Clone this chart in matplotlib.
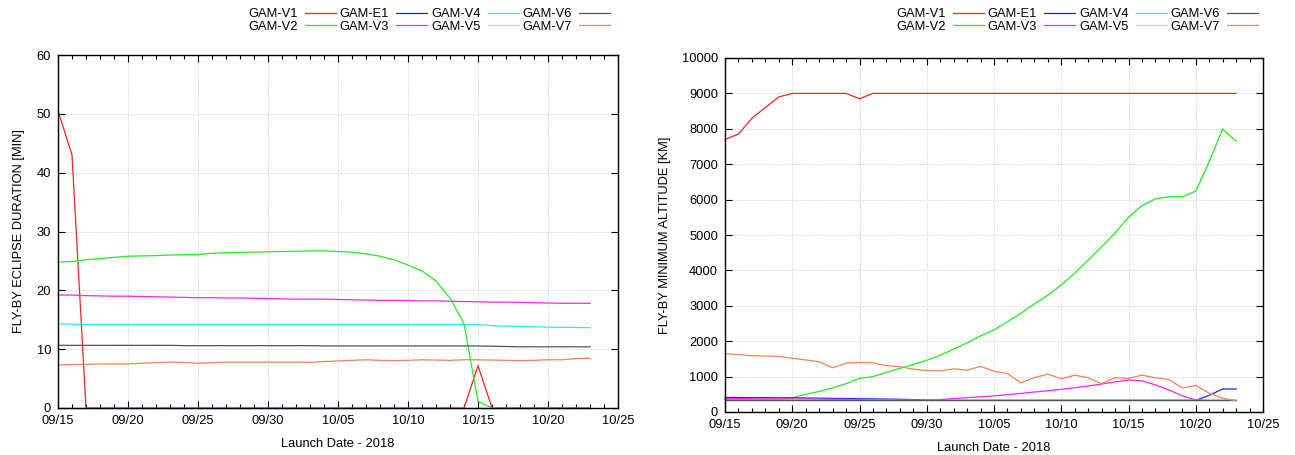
import datetime as dt
import numpy as np
import matplotlib
matplotlib.use("Agg")
import matplotlib.pyplot as plt
import matplotlib.dates as mdates
from matplotlib.ticker import MultipleLocator

plt.rcParams['font.family'] = ['Liberation Sans', 'DejaVu Sans']
plt.rcParams['font.size'] = 9

# launch dates 09/15 .. 10/23 (2018), one sample per day
start = dt.date(2018, 9, 15)
dates = [start + dt.timedelta(days=i) for i in range(39)]

names = ['GAM-V1', 'GAM-V2', 'GAM-E1', 'GAM-V3', 'GAM-V4', 'GAM-V5', 'GAM-V6', 'GAM-V7']
colors = ['#ff2020', '#20ee20', '#2020ff', '#ff20ff', '#20f0f0', '#d0d0d0', '#555555', '#ff8050']

# fly-by eclipse duration [min]
ecl_v1 = [50.5, 43.0] + [0.0] * 28 + [7.2] + [0.0] * 8
ecl_v2 = [24.8, 24.9, 25.2, 25.4, 25.6, 25.8, 25.85, 25.9, 26.0, 26.05,
          26.1, 26.3, 26.4, 26.45, 26.5, 26.55, 26.6, 26.65, 26.7, 26.7,
          26.6, 26.5, 26.2, 25.8, 25.2, 24.3, 23.3, 21.6, 18.7, 14.3,
          1.1, 0, 0, 0, 0, 0, 0, 0, 0]
ecl_e1 = [0.0] * 39
ecl_v3 = [19.2, 19.2, 19.1, 19.05, 19.0, 19.0, 18.95, 18.9, 18.85, 18.8,
          18.75, 18.75, 18.7, 18.7, 18.65, 18.6, 18.55, 18.5, 18.5, 18.5,
          18.45, 18.4, 18.35, 18.3, 18.3, 18.25, 18.2, 18.2, 18.15, 18.1,
          18.05, 18.0, 18.0, 17.95, 17.9, 17.85, 17.8, 17.8, 17.8]
ecl_v4 = [14.3, 14.25] + [14.2] * 29 + [14.0, 13.9, 13.85, 13.8, 13.75, 13.7, 13.7, 13.65]
ecl_v5 = [0.0] * 39
ecl_v6 = [10.65] * 9 + [10.6] * 10 + [10.55] * 12 + [10.5, 10.45, 10.4, 10.4, 10.4, 10.4, 10.4, 10.4]
ecl_v7 = [7.3, 7.4, 7.4, 7.5, 7.5, 7.5, 7.6, 7.7, 7.8, 7.75,
          7.6, 7.7, 7.8, 7.8, 7.8, 7.8, 7.8, 7.8, 7.75, 7.9,
          8.0, 8.1, 8.2, 8.1, 8.05, 8.1, 8.2, 8.15, 8.1, 8.2,
          8.2, 8.15, 8.1, 8.05, 8.1, 8.2, 8.2, 8.4, 8.45]

# fly-by minimum altitude [km]
alt_v1 = [7700, 7850, 8300, 8600, 8900, 9000, 9000, 9000, 9000, 9000,
          8850] + [9000] * 28
alt_v2 = [350, 350, 350, 350, 350, 400, 500, 580, 680, 800,
          950, 1000, 1120, 1230, 1340, 1460, 1600, 1780, 1950, 2150,
          2320, 2550, 2790, 3050, 3300, 3590, 3920, 4290, 4670, 5050,
          5500, 5830, 6020, 6080, 6080, 6240, 7070, 7990, 7650]
alt_e1 = [410, 410, 405, 405, 400, 400, 395, 390, 385, 380,
          375, 370, 365, 360, 350, 340, 335] + [330] * 19 + [470, 650, 650]
alt_v3 = [380, 378, 375, 372, 370, 368, 365, 362, 358, 355,
          352, 348, 345, 342, 338, 335, 350, 380, 405, 430,
          455, 490, 525, 565, 600, 640, 685, 735, 790, 850,
          905, 880, 765, 620, 460, 340, 330, 330, 330]
alt_v4 = [330] * 39
alt_v5 = [330] * 39
alt_v6 = [330] * 39
alt_v7 = [1650, 1620, 1590, 1580, 1570, 1520, 1470, 1420, 1250, 1380,
          1400, 1390, 1310, 1280, 1210, 1170, 1160, 1220, 1180, 1290,
          1150, 1090, 820, 970, 1070, 940, 1040, 970, 800, 970,
          950, 1040, 970, 920, 680, 750, 530, 390, 320]

eclipse = [ecl_v1, ecl_v2, ecl_e1, ecl_v3, ecl_v4, ecl_v5, ecl_v6, ecl_v7]
altitude = [alt_v1, alt_v2, alt_e1, alt_v3, alt_v4, alt_v5, alt_v6, alt_v7]

W, H = 1295, 455
fig = plt.figure(figsize=(W / 100, H / 100), dpi=100)


def px_axes(x0, y0, x1, y1):
    return fig.add_axes([x0 / W, 1 - y1 / H, (x1 - x0) / W, (y1 - y0) / H])


def style(ax, ymax, ystep, ylabel):
    x0 = mdates.date2num(start)
    ax.set_xlim(x0, x0 + 40)
    ax.set_ylim(0, ymax)
    ax.set_xticks(np.arange(x0, x0 + 41, 5))
    ax.xaxis.set_minor_locator(MultipleLocator(1))
    ax.xaxis.set_major_formatter(mdates.DateFormatter('%m/%d'))
    ax.yaxis.set_major_locator(MultipleLocator(ystep))
    ax.tick_params(which='both', direction='in', top=True, right=True,
                   color='black', width=0.8, labelsize=9.3, pad=5)
    ax.tick_params(which='major', length=5)
    ax.tick_params(which='minor', length=3)
    ax.grid(True, which='major', linestyle=(0, (1, 2)), color='#bbbbbb', linewidth=0.6)
    for sp in ax.spines.values():
        sp.set_linewidth(1.0)
    ax.set_xlabel('Launch Date - 2018', fontsize=9.3, labelpad=8)
    ax.set_ylabel(ylabel, fontsize=9.3, labelpad=8)


def draw(ax, series, legend_right):
    for name, col, vals in zip(names, colors, series):
        ax.plot(dates, vals, color=col, linewidth=0.9, label=name, clip_on=False)
    fig.legend(*ax.get_legend_handles_labels(), loc='upper right',
               bbox_to_anchor=(legend_right / W, 1 - 8 / H), ncol=4,
               frameon=False, markerfirst=False, fontsize=9.3,
               handlelength=2.4, handletextpad=0.55, columnspacing=0.3,
               labelspacing=0.05, borderpad=0, borderaxespad=0)


ax1 = px_axes(58, 55, 618, 408)
draw(ax1, eclipse, 610)
style(ax1, 60, 10, 'FLY-BY ECLIPSE DURATION [MIN]')

ax2 = px_axes(725, 58, 1263, 412)
draw(ax2, altitude, 1258)
style(ax2, 10000, 1000, 'FLY-BY MINIMUM ALTITUDE [KM]')

fig.savefig('out.png', dpi=100)
